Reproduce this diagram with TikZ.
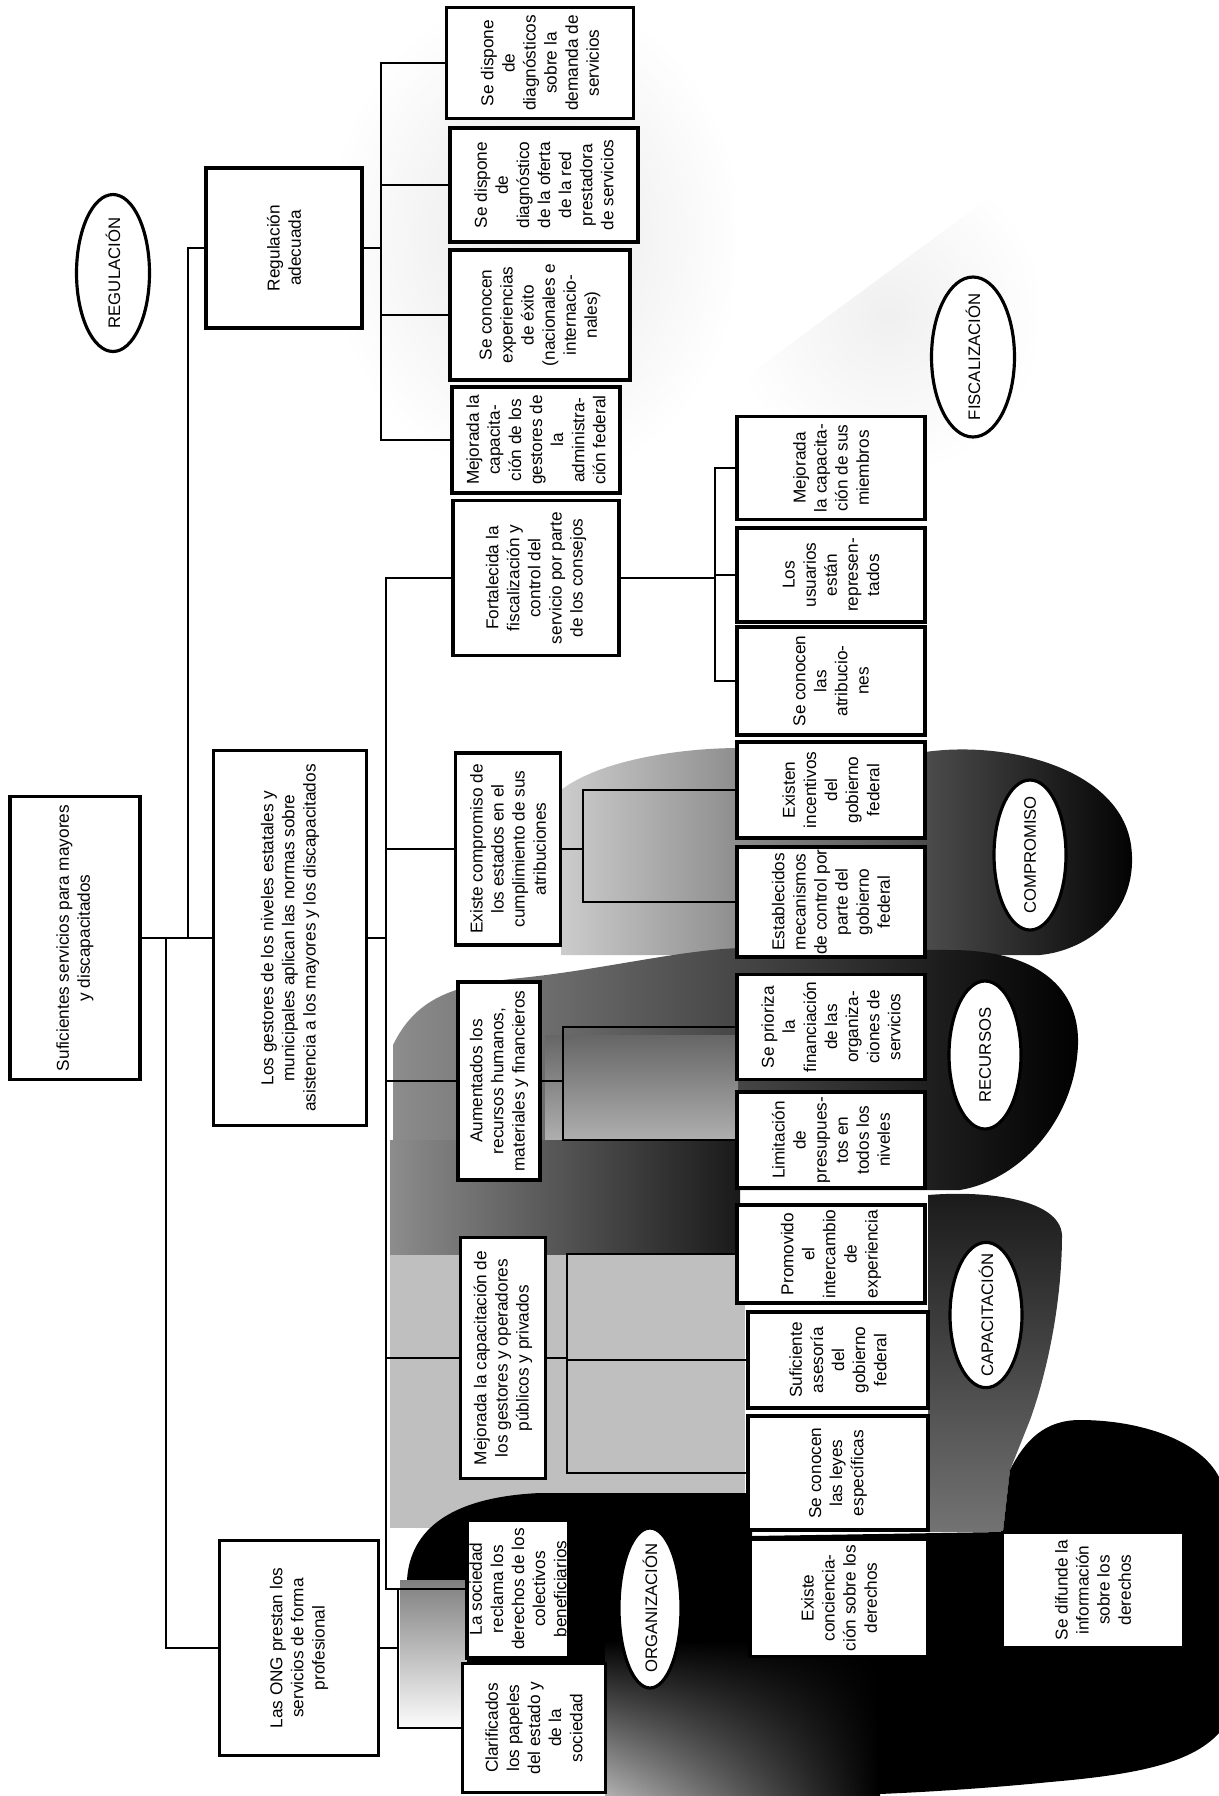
\documentclass[tikz,border=0pt]{standalone}
\usepackage{fontspec}
\setmainfont{Liberation Sans}
\usetikzlibrary{shapes.geometric, fadings}
\tikzfading[name=fadeup, top color=transparent!100, bottom color=transparent!0]
\tikzfading[name=fadedown, top color=transparent!0, bottom color=transparent!100]
\tikzfading[name=soft, inner color=transparent!0, outer color=transparent!100]
\tikzset{
  box/.style={draw, line width=2pt, rectangle, fill=white, rotate=90, align=center, inner sep=1pt, font=\fontsize{9.8}{12}\selectfont},
  tag/.style={draw, line width=1.8pt, ellipse, fill=white, rotate=90, inner xsep=-0.2cm, inner ysep=0pt, font=\fontsize{9.5}{11}\selectfont},
  link/.style={line width=0.6pt}
}

\begin{document}
\begin{tikzpicture}[x=0.02cm, y=-0.02cm]
  \useasboundingbox (0,0) rectangle (1219,1796);
  \fill[white] (0,0) rectangle (1219,1796);

  % shaded areas
  \fill[black!9, path fading=soft] (330,45) .. controls (420,5) and (560,-5) .. (650,10) .. controls (720,40) and (740,150) .. (735,260) .. controls (730,380) and (700,450) .. (640,480) -- (450,480) -- (400,440) -- (330,300) -- cycle;
  \fill[black!6, path fading=soft] (735,385) -- (1040,160) -- (1035,470) -- (760,470) -- cycle;
  \shade[left color=black!20, middle color=black!75, right color=black] (561,790) .. controls (600,760) and (680,748) .. (740,748) -- (925,752) .. controls (1010,740) and (1120,770) .. (1131,845) .. controls (1140,910) and (1090,950) .. (1040,955) -- (561,955) -- cycle;
  \shade[left color=black!45, middle color=black, right color=black] (393,1045) .. controls (415,1000) and (450,985) .. (520,978) .. controls (600,970) and (680,950) .. (740,948) -- (950,950) .. controls (1040,950) and (1080,990) .. (1078,1045) .. controls (1075,1120) and (1020,1180) .. (960,1190) -- (393,1190) -- cycle;
  \shade[top color=black!60, bottom color=black!30] (545,1035) rectangle (738,1145);
  \shade[left color=black!45, right color=black!90] (390,1140) rectangle (740,1260);
  \fill[black!25] (390,1255) rectangle (745,1528);
  \shade[top color=black!90, bottom color=black!55] (928,1195) .. controls (990,1190) and (1060,1200) .. (1062,1235) .. controls (1062,1300) and (1048,1370) .. (1030,1420) -- (1010,1470) -- (1003,1532) -- (928,1532) -- cycle;
  \fill[black] (407,1580) .. controls (410,1530) and (450,1497) .. (540,1493) -- (752,1493) -- (752,1536) -- (1003,1532) -- (1010,1470) .. controls (1025,1440) and (1045,1420) .. (1080,1420) .. controls (1140,1420) and (1200,1440) .. (1219,1477) -- (1219,1733) .. controls (1190,1765) and (1130,1775) .. (1050,1782) .. controls (950,1792) and (850,1796) .. (800,1796) -- (605,1796) -- (605,1662) -- (467,1662) -- (467,1580) -- cycle;
  \shade[left color=black!30, right color=black, path fading=fadeup] (605,1640) rectangle (880,1796);
  \fill[black!50, path fading=fadedown] (400,1580) rectangle (467,1730);

  % rotated nodes: north = left side, south = right side
  \node[tag, minimum width=3.14cm, minimum height=1.46cm] (reg) at (113,273) {REGULACIÓN};
  \node[box, minimum width=3.2cm, minimum height=3.12cm] (regad) at (284,248) {Regulación\\adecuada};
  \node[box, minimum width=5.66cm, minimum height=2.6cm] (root) at (75,938) {Suficientes servicios para mayores\\y discapacitados};
  \node[box, minimum width=7.5cm, minimum height=3.06cm] (gest) at (290,938) {Los gestores de los niveles estatales y\\municipales aplican las normas sobre\\asistencia a los mayores y los discapacitados};
  \node[box, minimum width=4.3cm, minimum height=3.18cm] (ong) at (299,1648) {Las ONG prestan los\\servicios de forma\\profesional};

  \node[box, minimum width=2.22cm, minimum height=3.74cm] (dem) at (540,63) {Se dispone\\de\\diagnósticos\\sobre la\\demanda de\\servicios};
  \node[box, minimum width=2.28cm, minimum height=3.76cm] (ofe) at (544,185) {Se dispone\\de\\diagnóstico\\de la oferta\\de la red\\prestadora\\de servicios};
  \node[box, minimum width=2.6cm, minimum height=3.6cm] (expe) at (540,315) {Se conocen\\experiencias\\de éxito\\(nacionales e\\internacio-\\nales)};
  \node[box, minimum width=2.12cm, minimum height=3.36cm] (madm) at (536,440) {Mejorada la\\capacita-\\ción de los\\gestores de\\la\\administra-\\ción federal};
  \node[box, minimum width=3.1cm, minimum height=3.32cm] (fort) at (536,578) {Fortalecida la\\fiscalización y\\control del\\servicio por parte\\de los consejos};
  \node[box, minimum width=3.84cm, minimum height=2.1cm] (comp) at (508,849) {Existe compromiso de\\los estados en el\\cumplimiento de sus\\atribuciones};
  \node[box, minimum width=3.96cm, minimum height=1.64cm] (aum) at (499,1081) {Aumentados los\\recursos humanos,\\materiales y financieros};
  \node[box, minimum width=4.82cm, minimum height=1.7cm] (mcap) at (503,1358) {Mejorada la capacitación de\\los gestores y operadores\\públicos y privados};
  \node[box, minimum width=2.76cm, minimum height=2.04cm] (soc) at (518,1589) {La sociedad\\reclama los\\derechos de los\\colectivos\\beneficiarios};
  \node[box, minimum width=2.58cm, minimum height=2.86cm] (clar) at (534,1728) {Clarificados\\los papeles\\del estado y\\de la\\sociedad};

  \node[box, minimum width=2.06cm, minimum height=3.76cm] (fmie) at (831,468) {Mejorada\\la capacita-\\ción de sus\\miembros};
  \node[box, minimum width=1.88cm, minimum height=3.76cm] (usu) at (831,575) {Los\\usuarios\\están\\represen-\\tados};
  \node[box, minimum width=2.16cm, minimum height=3.76cm] (atr) at (831,681) {Se conocen\\las\\atribucio-\\nes};
  \node[box, minimum width=1.92cm, minimum height=3.76cm] (inc) at (831,790) {Existen\\incentivos\\del\\gobierno\\federal};
  \node[box, minimum width=2.2cm, minimum height=3.76cm] (mec) at (831,902) {Establecidos\\mecanismos\\de control por\\parte del\\gobierno\\federal};
  \node[box, minimum width=2.1cm, minimum height=3.76cm] (prio) at (831,1027) {Se prioriza\\la\\financiación\\de las\\organiza-\\ciones de\\servicios};
  \node[box, minimum width=1.92cm, minimum height=3.76cm] (lim) at (831,1140) {Limitación\\de\\presupues-\\tos en\\todos los\\niveles};
  \node[box, minimum width=1.96cm, minimum height=3.76cm] (prom) at (831,1254) {Promovido\\el\\intercambio\\de\\experiencia};
  \node[box, minimum width=1.92cm, minimum height=3.6cm] (ases) at (838,1360) {Suficiente\\asesoría\\del\\gobierno\\federal};
  \node[box, minimum width=2.28cm, minimum height=3.6cm] (leyes) at (838,1473) {Se conocen\\las leyes\\específicas};
  \node[box, minimum width=2.34cm, minimum height=3.56cm] (conc) at (839,1598) {Existe\\conciencia-\\ción sobre los\\derechos};
  \node[box, minimum width=2.3cm, minimum height=3.62cm] (dif) at (1093,1590) {Se difunde la\\información\\sobre los\\derechos};

  \node[tag, minimum width=3.2cm, minimum height=1.66cm] (fisc) at (973,357) {FISCALIZACIÓN};
  \node[tag, minimum width=3.0cm, minimum height=1.44cm] (compe) at (1030,855) {COMPROMISO};
  \node[tag, minimum width=2.96cm, minimum height=1.44cm] (recu) at (985,1055) {RECURSOS};
  \node[tag, minimum width=2.88cm, minimum height=1.44cm] (capa) at (986,1315) {CAPACITACIÓN};
  \node[tag, minimum width=3.2cm, minimum height=1.24cm] (orga) at (650,1608) {ORGANIZACIÓN};

  % bus points
  \coordinate (tU) at (188,938);
  \coordinate (tL) at (166,938);
  \coordinate (bR) at (381,248);
  \coordinate (bG) at (386,938);
  \coordinate (bO) at (398,1648);
  \coordinate (bF) at (715,578);
  \coordinate (bC) at (583,849);
  \coordinate (bA) at (563,1081);
  \coordinate (bM) at (567,1358);

  \draw[link] (root.south) -- (gest.north);
  \draw[link] (regad.north) -| (tU);
  \draw[link] (ong.north) -| (tL);

  \draw[link] (regad.south) -- (bR);
  \draw[link] (bR) |- (dem.north);
  \draw[link] (bR) |- (ofe.north);
  \draw[link] (bR) |- (expe.north);
  \draw[link] (bR) |- (madm.north);

  \draw[link] (gest.south) -- (bG);
  \draw[link] (bG) |- (fort.north);
  \draw[link] (bG) |- (comp.north);
  \draw[link] (bG) |- (aum.north);
  \draw[link] (bG) |- (mcap.north);
  \draw[link] (bG) |- (soc.north);

  \draw[link] (ong.south) -- (bO);
  \draw[link] (bO) |- (soc.north);
  \draw[link] (bO) |- (clar.north);

  \draw[link] (fort.south) -- (bF);
  \draw[link] (bF) |- (fmie.north);
  \draw[link] (bF) |- (usu.north);
  \draw[link] (bF) |- (atr.north);

  \draw[link] (comp.south) -- (bC);
  \draw[link] (bC) |- (inc.north);
  \draw[link] (bC) |- (mec.north);

  \draw[link] (aum.south) -- (bA);
  \draw[link] (bA) |- (prio.north);
  \draw[link] (bA) |- (lim.north);

  \draw[link] (mcap.south) -- (bM);
  \draw[link] (bM) |- (prom.north);
  \draw[link] (bM) |- (ases.north);
  \draw[link] (bM) |- (leyes.north);
\end{tikzpicture}
\end{document}
